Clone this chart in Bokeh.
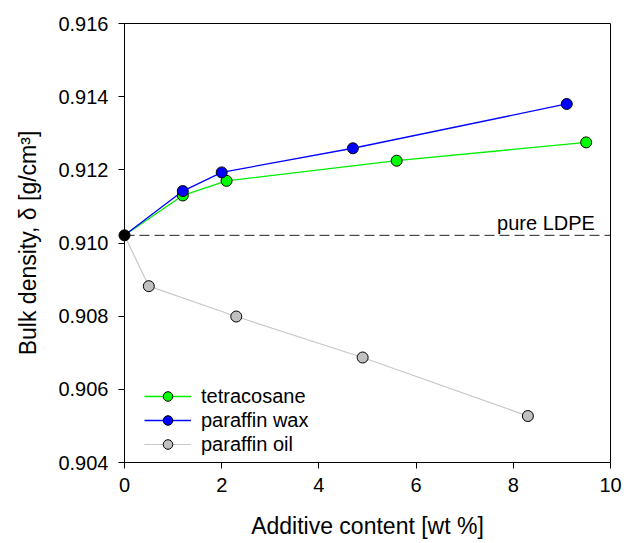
from bokeh.plotting import figure
from bokeh.models import Span, Label, Legend, LegendItem, Range1d, FixedTicker, NumeralTickFormatter
from bokeh.embed import file_html
from bokeh.resources import INLINE

# data
pure_x = 0.0
pure_y = 0.91021
tetra_x = [1.2, 2.1, 5.6, 9.5]
tetra_y = [0.9113, 0.9117, 0.91225, 0.91275]
wax_x = [1.2, 2.0, 4.7, 9.1]
wax_y = [0.91142, 0.91193, 0.91259, 0.9138]
oil_x = [0.5, 2.3, 4.9, 8.3]
oil_y = [0.90882, 0.90799, 0.90687, 0.90527]
x_ticks = [0, 2, 4, 6, 8, 10]
y_ticks = [0.904, 0.906, 0.908, 0.910, 0.912, 0.914, 0.916]

FONT = "Liberation Sans"

p = figure(width=624, height=543, output_backend="svg", toolbar_location=None,
           x_range=Range1d(0, 10), y_range=Range1d(0.904, 0.916),
           min_border_left=124, min_border_right=14, min_border_top=23, min_border_bottom=81)

p.grid.visible = False
p.outline_line_color = "black"
p.outline_line_width = 1
p.background_fill_color = "white"
p.border_fill_color = "white"

p.xaxis.ticker = FixedTicker(ticks=x_ticks)
p.yaxis.ticker = FixedTicker(ticks=y_ticks)
p.yaxis.formatter = NumeralTickFormatter(format="0.000")
for ax in (p.xaxis, p.yaxis):
    ax.major_tick_out = 6
    ax.major_tick_in = 0
    ax.minor_tick_out = 0
    ax.minor_tick_in = 0
    ax.axis_line_color = "black"
    ax.major_tick_line_color = "black"
    ax.major_label_text_font = FONT
    ax.major_label_text_font_size = "20px"
    ax.major_label_text_color = "black"
    ax.axis_label_text_font = FONT
    ax.axis_label_text_font_size = "23px"
    ax.axis_label_text_font_style = "normal"
    ax.axis_label_text_color = "black"

p.xaxis.axis_label = "Additive content [wt %]"
p.yaxis.axis_label = "Bulk density, δ [g/cm³]"
p.xaxis.major_label_standoff = 9
p.xaxis.axis_label_standoff = 18
p.yaxis.major_label_standoff = 10
p.yaxis.axis_label_standoff = 14

span = Span(location=pure_y, dimension="width", line_color="#222222", line_width=1, line_dash="10 5")
p.add_layout(span)
p.add_layout(Label(x=9.68, y=pure_y, text="pure LDPE", text_align="right", text_baseline="alphabetic",
                   y_offset=12, text_font=FONT, text_font_size="20px", text_color="black"))

series = [
    ("tetracosane", tetra_x, tetra_y, "#00ee00", "#00ff00", 1.3),
    ("paraffin wax", wax_x, wax_y, "#0000ff", "#0000ff", 1.3),
    ("paraffin oil", oil_x, oil_y, "#c8c8c8", "#c0c0c0", 1.2),
]
items = []
line_rs = []
for name, xs, ys, lc, fc, lw in [series[2], series[0], series[1]]:
    lr = p.line([pure_x] + xs, [pure_y] + ys, line_color=lc, line_width=lw)
    line_rs.append((name, lr, xs, ys, fc))
scat = {}
for name, lr, xs, ys, fc in line_rs:
    sr = p.scatter(xs, ys, size=11, fill_color=fc, line_color="black", line_width=1, level="overlay")
    scat[name] = (lr, sr)
p.scatter([pure_x], [pure_y], size=11, fill_color="black", line_color="black", level="overlay")

for name, *_ in series:
    lr, sr = scat[name]
    items.append(LegendItem(label=name, renderers=[lr, sr]))

legend = Legend(items=items, location=(20, 6), glyph_width=47, glyph_height=24, label_height=23,
                spacing=0, label_standoff=10, padding=0, margin=0,
                border_line_alpha=0, background_fill_alpha=0,
                label_text_font=FONT, label_text_font_size="20px", label_text_color="black")
p.add_layout(legend, "center")

open("out.html", "w").write(file_html(p, INLINE))
